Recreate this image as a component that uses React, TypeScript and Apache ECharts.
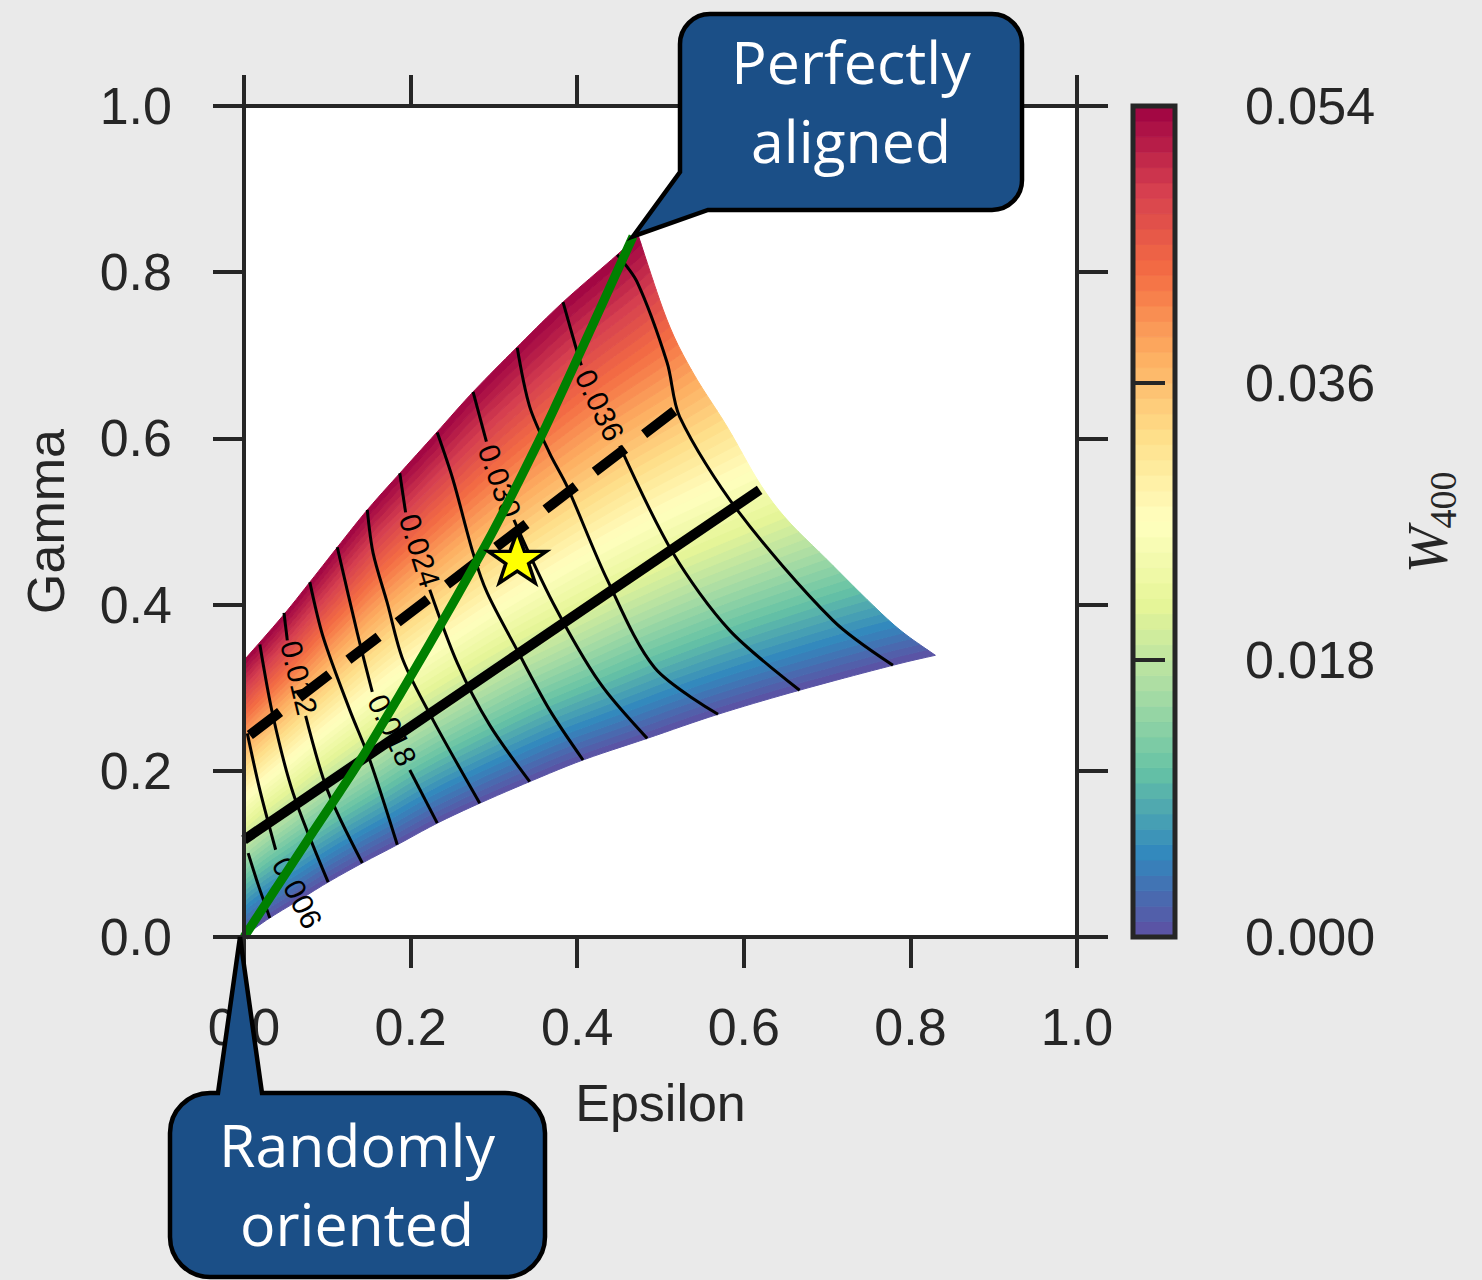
import React, { useEffect, useRef } from "react";
import * as echarts from "echarts";

// ---------- data ----------
const W_MAX = 0.054;
const colorbarTicks = [0, 0.018, 0.036, 0.054];
const epsilonRange = [0, 1];
const gammaRange = [0, 1];

// W400 levels used to shade the field (one band between two consecutive levels)
const wBands = [
  0.0, 0.001, 0.002, 0.003, 0.004, 0.005, 0.006, 0.007, 0.008, 0.009, 0.01, 0.011, 0.012, 0.013,
  0.014, 0.015, 0.016, 0.017, 0.018, 0.019, 0.02, 0.021, 0.022, 0.023, 0.024, 0.025, 0.026, 0.027,
  0.028, 0.029, 0.03, 0.031, 0.032, 0.033, 0.034, 0.035, 0.036, 0.037, 0.038, 0.039, 0.04, 0.041,
  0.042, 0.043, 0.044, 0.045, 0.046, 0.047, 0.048, 0.049, 0.05, 0.051, 0.052, 0.053, 0.054,
];

// Boundaries of the accessible (epsilon, gamma) region
const lowerEdge = [
  [0, 0], [0.007, 0.006], [0.031, 0.023], [0.067, 0.045], [0.101, 0.066], [0.142, 0.089],
  [0.184, 0.111], [0.232, 0.137], [0.283, 0.161], [0.343, 0.187], [0.407, 0.213], [0.484, 0.239],
  [0.569, 0.268], [0.667, 0.297], [0.779, 0.327], [0.83, 0.339],
];
const upperEdge = [
  [0, 0.333], [0.047, 0.387], [0.079, 0.427], [0.112, 0.469], [0.148, 0.514], [0.187, 0.558],
  [0.232, 0.608], [0.275, 0.656], [0.328, 0.71], [0.383, 0.764], [0.448, 0.821], [0.473, 0.845],
];
const rightEdge = [
  [0.83, 0.339], [0.788, 0.369], [0.748, 0.406], [0.7, 0.454], [0.652, 0.502], [0.619, 0.546],
  [0.58, 0.614], [0.539, 0.679], [0.508, 0.742], [0.473, 0.845],
];

// Thin contour lines (level, path before label, label position, path after label)
const contourLines: { level: number; path: number[][]; label?: number[]; rest?: number[][] }[] = [
  { level: 0.003, path: [[0.005, 0.101], [0.017, 0.063], [0.031, 0.023]] },
  { level: 0.006, path: [[0.004, 0.245], [0.019, 0.177], [0.038, 0.105]], label: [0.064, 0.053] },
  { level: 0.009, path: [[0.019, 0.352], [0.035, 0.265], [0.059, 0.173], [0.101, 0.066]] },
  { level: 0.012, path: [[0.048, 0.39], [0.052, 0.357]], label: [0.066, 0.312], rest: [[0.074, 0.266], [0.1, 0.177], [0.142, 0.089]] },
  { level: 0.015, path: [[0.079, 0.427], [0.095, 0.361], [0.127, 0.273], [0.151, 0.213], [0.184, 0.111]] },
  { level: 0.018, path: [[0.112, 0.469], [0.136, 0.366], [0.154, 0.295]], label: [0.178, 0.249], rest: [[0.199, 0.201], [0.232, 0.137]] },
  { level: 0.021, path: [[0.148, 0.514], [0.155, 0.462], [0.172, 0.402], [0.191, 0.333], [0.227, 0.261], [0.283, 0.161]] },
  { level: 0.024, path: [[0.187, 0.558], [0.194, 0.511]], label: [0.211, 0.465], rest: [[0.223, 0.418], [0.256, 0.33], [0.295, 0.255], [0.343, 0.187]] },
  { level: 0.027, path: [[0.232, 0.607], [0.251, 0.55], [0.275, 0.462], [0.292, 0.414], [0.328, 0.345], [0.367, 0.273], [0.407, 0.213]] },
  { level: 0.03, path: [[0.275, 0.656], [0.291, 0.596]], label: [0.307, 0.549], rest: [[0.324, 0.502], [0.371, 0.402], [0.427, 0.306], [0.484, 0.239]] },
  { level: 0.033, path: [[0.328, 0.709], [0.343, 0.638], [0.367, 0.582], [0.388, 0.542], [0.436, 0.43], [0.493, 0.324], [0.569, 0.268]] },
  { level: 0.036, path: [[0.383, 0.764], [0.4, 0.704], [0.405, 0.688]], label: [0.427, 0.64], rest: [[0.451, 0.591], [0.515, 0.462], [0.583, 0.369], [0.667, 0.297]] },
  { level: 0.039, path: [[0.448, 0.821], [0.472, 0.788], [0.508, 0.691], [0.523, 0.626], [0.592, 0.514], [0.707, 0.381], [0.779, 0.327]] },
];

const greenCurve = [[0, 0], [0.076, 0.116], [0.151, 0.231], [0.287, 0.466], [0.355, 0.599], [0.407, 0.711], [0.467, 0.843]];
const solidLine = [[0, 0.117], [0.619, 0.538]];
const dashedLine = [[0.007, 0.243], [0.539, 0.65]];
const starPoint = [[0.328, 0.457]];

const spectralR = ["#5e4fa2", "#3288bd", "#66c2a5", "#abdda4", "#e6f598", "#ffffbf", "#fee08b", "#fdae61", "#f46d43", "#d53e4f", "#9e0142"];

// ---------- helpers for drawing the curvilinear mesh ----------
// Catmull-Rom smoothing of a boundary polyline (rendering only: keeps the read points, rounds the corners)
function smoothPoly(poly: number[][], sub = 8) {
  const out: number[][] = [];
  const n = poly.length;
  for (let i = 0; i < n - 1; i++) {
    const p0 = poly[Math.max(0, i - 1)], p1 = poly[i], p2 = poly[i + 1], p3 = poly[Math.min(n - 1, i + 2)];
    for (let j = 0; j < sub; j++) {
      const u = j / sub, u2 = u * u, u3 = u2 * u;
      const pt = [0, 0];
      for (let k = 0; k < 2; k++) {
        pt[k] = 0.5 * (2 * p1[k] + (-p0[k] + p2[k]) * u + (2 * p0[k] - 5 * p1[k] + 4 * p2[k] - p3[k]) * u2 + (-p0[k] + 3 * p1[k] - 3 * p2[k] + p3[k]) * u3);
      }
      out.push(pt);
    }
  }
  out.push(poly[n - 1]);
  return out;
}
function makeSampler(raw: number[][]) {
  const poly = raw.length > 2 ? smoothPoly(raw) : raw;
  const cum = [0];
  for (let i = 1; i < poly.length; i++) {
    cum.push(cum[i - 1] + Math.hypot(poly[i][0] - poly[i - 1][0], poly[i][1] - poly[i - 1][1]));
  }
  const total = cum[cum.length - 1];
  return (f: number) => {
    const d = Math.max(0, Math.min(1, f)) * total;
    let i = 1;
    while (i < cum.length - 1 && cum[i] < d) i++;
    const seg = cum[i] - cum[i - 1] || 1;
    const u = (d - cum[i - 1]) / seg;
    return [poly[i - 1][0] + u * (poly[i][0] - poly[i - 1][0]), poly[i - 1][1] + u * (poly[i][1] - poly[i - 1][1])];
  };
}
const leftEdge = [lowerEdge[0], upperEdge[0]];
const sL = makeSampler(lowerEdge);
const sU = makeSampler(upperEdge);
const sLeft = makeSampler(leftEdge);
const sR = makeSampler(rightEdge);
const P00 = lowerEdge[0];
const P10 = lowerEdge[lowerEdge.length - 1];
const P01 = upperEdge[0];
const P11 = upperEdge[upperEdge.length - 1];
function meshPoint(s: number, t: number) {
  const L = sL(s), U = sU(s), A = sLeft(t), R = sR(t);
  const out = [0, 0];
  for (let k = 0; k < 2; k++) {
    out[k] =
      (1 - t) * L[k] + t * U[k] + (1 - s) * A[k] + s * R[k] -
      ((1 - s) * (1 - t) * P00[k] + s * (1 - t) * P10[k] + (1 - s) * t * P01[k] + s * t * P11[k]);
  }
  return out;
}
const MESH_COLS = 80;

const FONT = '"Liberation Sans", Arial, sans-serif';
const INK = "#262626";

export default function App() {
  const ref = useRef<HTMLDivElement>(null);

  useEffect(() => {
    document.body.style.margin = "0";
    const chart = echarts.init(ref.current!, null, { renderer: "svg" });

    const axisLine = { show: true, onZero: false, lineStyle: { color: INK, width: 4 } };
    const axisTick = { show: true, inside: false, length: 31, lineStyle: { color: INK, width: 4 } };
    const labelStyle = { fontFamily: FONT, fontSize: 52, color: INK };

    const bandData = wBands.slice(0, -1).map((w, i) => [0, 0, (w + wBands[i + 1]) / 2]);
    const barData = wBands.slice(0, -1).map((w, i) => [0.5, (w + wBands[i + 1]) / 2, (w + wBands[i + 1]) / 2]);

    const option: any = {
      animation: false,
      backgroundColor: "#eaeaea",
      grid: [
        { left: 244, top: 106, width: 833, height: 831, show: true, backgroundColor: "#ffffff", borderWidth: 0 },
        { left: 1133, top: 106, width: 42, height: 831, show: false },
      ],
      xAxis: [
        {
          gridIndex: 0, type: "value", min: epsilonRange[0], max: epsilonRange[1], interval: 0.2, position: "bottom",
          axisLine, axisTick,
          axisLabel: { ...labelStyle, margin: 64, formatter: (v: number) => v.toFixed(1) },
          splitLine: { show: false },
          name: "Epsilon", nameLocation: "middle", nameGap: 140, nameTextStyle: { ...labelStyle },
          z: 10,
        },
        {
          gridIndex: 0, type: "value", min: epsilonRange[0], max: epsilonRange[1], interval: 0.2, position: "top",
          axisLine, axisTick, axisLabel: { show: false }, splitLine: { show: false }, z: 10,
        },
        { gridIndex: 1, type: "value", min: 0, max: 1, show: false },
      ],
      yAxis: [
        {
          gridIndex: 0, type: "value", min: gammaRange[0], max: gammaRange[1], interval: 0.2, position: "left",
          axisLine, axisTick,
          axisLabel: { ...labelStyle, margin: 72, formatter: (v: number) => v.toFixed(1) },
          splitLine: { show: false },
          name: "Gamma", nameLocation: "middle", nameGap: 172, nameTextStyle: { ...labelStyle },
          z: 10,
        },
        {
          gridIndex: 0, type: "value", min: gammaRange[0], max: gammaRange[1], interval: 0.2, position: "right",
          axisLine, axisTick, axisLabel: { show: false }, splitLine: { show: false }, z: 10,
        },
        {
          gridIndex: 1, type: "value", min: colorbarTicks[0], max: colorbarTicks[colorbarTicks.length - 1],
          interval: colorbarTicks[1] - colorbarTicks[0], position: "right",
          axisLine: { show: false }, axisTick: { show: true, length: 32, lineStyle: { color: INK, width: 4 } },
          axisLabel: { ...labelStyle, margin: 70, formatter: (v: number) => v.toFixed(3) },
          splitLine: { show: false }, z: 10,
        },
      ],
      visualMap: {
        type: "continuous", show: false, min: 0, max: W_MAX, dimension: 2, seriesIndex: [0, 1],
        inRange: { color: spectralR },
      },
      series: [
        {
          type: "custom", name: "W400 field", xAxisIndex: 0, yAxisIndex: 0, z: 1, clip: true,
          data: bandData,
          renderItem: (params: any, api: any) => {
            const i = params.dataIndex;
            const t0 = wBands[i] / W_MAX;
            const t1 = wBands[i + 1] / W_MAX;
            const pts: number[][] = [];
            for (let j = 0; j <= MESH_COLS; j++) pts.push(api.coord(meshPoint(j / MESH_COLS, t0)));
            for (let j = MESH_COLS; j >= 0; j--) pts.push(api.coord(meshPoint(j / MESH_COLS, t1)));
            const c = api.visual("color");
            return { type: "polygon", shape: { points: pts }, style: { fill: c, stroke: c, lineWidth: 1 } };
          },
        },
        {
          type: "custom", name: "colorbar", xAxisIndex: 2, yAxisIndex: 2, z: 1,
          data: barData,
          renderItem: (params: any, api: any) => {
            const i = params.dataIndex;
            const a = api.coord([0, wBands[i + 1]]);
            const b = api.coord([1, wBands[i]]);
            const c = api.visual("color");
            return { type: "rect", shape: { x: a[0], y: a[1], width: b[0] - a[0], height: b[1] - a[1] }, style: { fill: c, stroke: c, lineWidth: 0.8 } };
          },
        },
        {
          type: "custom", name: "colorbar frame", xAxisIndex: 2, yAxisIndex: 2, z: 5,
          data: [[0, 0]],
          renderItem: (params: any, api: any) => {
            const a = api.coord([0, W_MAX]);
            const b = api.coord([1, 0]);
            return { type: "rect", shape: { x: a[0], y: a[1], width: b[0] - a[0], height: b[1] - a[1] }, style: { fill: "none", stroke: INK, lineWidth: 5 } };
          },
        },
        {
          type: "custom", name: "contours", xAxisIndex: 0, yAxisIndex: 0, z: 3, clip: true,
          data: contourLines.map((c) => [c.path[0][0], c.path[0][1], c.level]),
          renderItem: (params: any, api: any) => {
            const c = contourLines[params.dataIndex];
            const children: any[] = [];
            const p1 = c.path.map((p) => api.coord(p));
            children.push({ type: "polyline", shape: { points: p1, smooth: 0.3 }, style: { stroke: "#000", lineWidth: 3, fill: "none" } });
            if (c.rest) {
              const p2 = c.rest.map((p) => api.coord(p));
              children.push({ type: "polyline", shape: { points: p2, smooth: 0.3 }, style: { stroke: "#000", lineWidth: 3, fill: "none" } });
            }
            if (c.label) {
              const lp = api.coord(c.label);
              const a = p1[p1.length - 1];
              const b = c.rest ? api.coord(c.rest[0]) : lp;
              const ang = Math.atan2(b[1] - a[1], b[0] - a[0]);
              children.push({
                type: "text", x: lp[0], y: lp[1], rotation: -ang,
                style: { text: c.level.toFixed(3), fill: "#000", font: `30px ${FONT}`, align: "center", verticalAlign: "middle" },
              });
            }
            return { type: "group", children };
          },
        },
        {
          type: "line", name: "solid", xAxisIndex: 0, yAxisIndex: 0, z: 4, data: solidLine, symbol: "none",
          lineStyle: { color: "#000", width: 10, cap: "butt" },
        },
        {
          type: "line", name: "dashed", xAxisIndex: 0, yAxisIndex: 0, z: 4, data: dashedLine, symbol: "none",
          lineStyle: { color: "#000", width: 10, type: [38, 24], cap: "butt" },
        },
        {
          type: "line", name: "aligned", xAxisIndex: 0, yAxisIndex: 0, z: 5, data: greenCurve, symbol: "none", smooth: 0.3,
          lineStyle: { color: "#008000", width: 9 },
        },
        {
          type: "scatter", name: "star", xAxisIndex: 0, yAxisIndex: 0, z: 6, data: starPoint,
          symbol: "path://M50,0 L61.8,35.1 L97.6,35.1 L68.8,56.9 L79.4,91 L50,70 L20.6,91 L31.2,56.9 L2.4,35.1 L38.2,35.1 Z",
          symbolSize: [58, 54], symbolKeepAspect: true,
          itemStyle: { color: "#ffff00", borderColor: "#000", borderWidth: 3.5, opacity: 1 },
        },
      ],
    };
    chart.setOption(option);

    // callouts pointing at data positions
    const tipTop = chart.convertToPixel({ gridIndex: 0 }, greenCurve[greenCurve.length - 1]) as number[];
    const tipBot = chart.convertToPixel({ gridIndex: 0 }, greenCurve[0]) as number[];
    const kk = 0.5523;
    {
      const x0 = 680, y0 = 14, x1 = 1022, y1 = 210, r = 30, k = r * kk;
      const d =
        `M${x0 + r},${y0} L${x1 - r},${y0} C${x1 - r + k},${y0} ${x1},${y0 + r - k} ${x1},${y0 + r} ` +
        `L${x1},${y1 - r} C${x1},${y1 - r + k} ${x1 - r + k},${y1} ${x1 - r},${y1} ` +
        `L708,${y1} L${tipTop[0]},${tipTop[1]} L${x0},172 ` +
        `L${x0},${y0 + r} C${x0},${y0 + r - k} ${x0 + r - k},${y0} ${x0 + r},${y0} Z`;
      echarts.graphic.registerShape("calloutTop", echarts.graphic.extendPath(d, {}));
    }
    {
      const x0 = 170, y0 = 1093, x1 = 545, y1 = 1277, r = 40, k = r * kk;
      const d =
        `M${x0 + r},${y0} L218,${y0} L${tipBot[0] - 4},${tipBot[1]} L262,${y0} L${x1 - r},${y0} ` +
        `C${x1 - r + k},${y0} ${x1},${y0 + r - k} ${x1},${y0 + r} L${x1},${y1 - r} ` +
        `C${x1},${y1 - r + k} ${x1 - r + k},${y1} ${x1 - r},${y1} L${x0 + r},${y1} ` +
        `C${x0 + r - k},${y1} ${x0},${y1 - r + k} ${x0},${y1 - r} L${x0},${y0 + r} ` +
        `C${x0},${y0 + r - k} ${x0 + r - k},${y0} ${x0 + r},${y0} Z`;
      echarts.graphic.registerShape("calloutBottom", echarts.graphic.extendPath(d, {}));
    }
    const boxStyle = { fill: "#1b4f87", stroke: "#000", lineWidth: 4.5 };
    const calloutFont = '59px "Open Sans", "Noto Sans", sans-serif';
    chart.setOption({
      graphic: [
        { type: "calloutTop", z: 100, silent: true, style: boxStyle },
        { type: "calloutBottom", z: 100, silent: true, style: boxStyle },
        {
          type: "text", z: 101, x: 851, y: 100, silent: true,
          style: { text: "Perfectly\naligned", fill: "#ffffff", font: calloutFont, align: "center", verticalAlign: "middle", lineHeight: 79 },
        },
        {
          type: "text", z: 101, x: 357, y: 1183, silent: true,
          style: { text: "Randomly\noriented", fill: "#ffffff", font: calloutFont, align: "center", verticalAlign: "middle", lineHeight: 79 },
        },
        {
          type: "text", z: 101, x: 1428, y: 550, rotation: Math.PI / 2, silent: true,
          style: { text: "W", fill: INK, font: 'italic 56px "Liberation Serif", serif', align: "center", verticalAlign: "middle" },
        },
        {
          type: "text", z: 101, x: 1443, y: 500, rotation: Math.PI / 2, silent: true,
          style: { text: "400", fill: INK, font: '38px "Liberation Serif", serif', align: "center", verticalAlign: "middle" },
        },
      ],
    });

    return () => chart.dispose();
  }, []);

  return <div ref={ref} style={{ width: 1482, height: 1280, position: "absolute", left: 0, top: 0 }} />;
}
